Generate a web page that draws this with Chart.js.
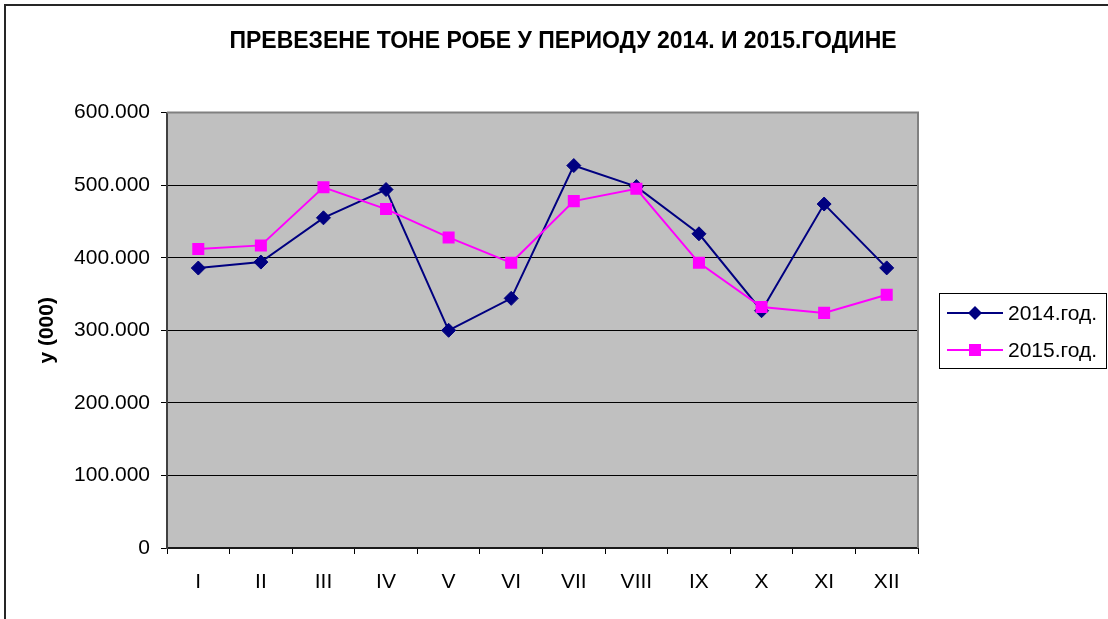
<!DOCTYPE html>
<html>
<head>
<meta charset="utf-8">
<script src="https://cdn.jsdelivr.net/npm/chart.js@4/dist/chart.umd.min.js"></script>
<style>
  html, body { margin: 0; padding: 0; background: #fff; }
  #wrap { width: 1108px; height: 619px; }
</style>
</head>
<body>
<div id="wrap"><canvas id="chart" width="1108" height="619"></canvas></div>
<script>
// Text strings
var chartTitle = "ПРЕВЕЗЕНЕ ТОНЕ РОБЕ У ПЕРИОДУ 2014. И 2015.ГОДИНЕ";
var yAxisTitle = "у (000)";
var months = ["I", "II", "III", "IV", "V", "VI", "VII", "VIII", "IX", "X", "XI", "XII"];

// Values
var values2014 = [385800, 394000, 455000, 494000, 300000, 344000, 527000, 498000, 433000, 327000, 474000, 386000];
var values2015 = [412000, 417000, 497000, 467000, 428000, 393000, 478000, 495000, 393000, 332000, 324000, 349000];
var label2014 = "2014.год.";
var label2015 = "2015.год.";

// Colors
var color2014 = "#000080";
var color2015 = "#FF00FF";
var plotColor = "#C0C0C0";
var fontName = "'Liberation Sans', Arial, sans-serif";

// 100000 -> "100.000"
function formatThousands(v) {
    return String(v).replace(/\B(?=(\d{3})+(?!\d))/g, ".");
}

// White page, outer frame and grey plot area
var backgroundPlugin = {
    id: 'background',
    beforeDraw: function(chart) {
        var ctx = chart.ctx;
        var a = chart.chartArea;
        ctx.save();
        ctx.fillStyle = "#fff";
        ctx.fillRect(0, 0, chart.width, chart.height);
        ctx.strokeStyle = "#262626";
        ctx.lineWidth = 2;
        ctx.strokeRect(5, 5, chart.width + 20, chart.height + 20);
        ctx.fillStyle = plotColor;
        ctx.fillRect(a.left, a.top, a.right - a.left, a.bottom - a.top);
        ctx.restore();
    },
    beforeDatasetsDraw: function(chart) {
        // grey top and right edges of the plot area
        var ctx = chart.ctx;
        var a = chart.chartArea;
        ctx.save();
        ctx.strokeStyle = "#808080";
        ctx.lineWidth = 2;
        ctx.beginPath();
        ctx.moveTo(a.left, a.top);
        ctx.lineTo(a.right, a.top);
        ctx.lineTo(a.right, a.bottom);
        ctx.stroke();
        ctx.restore();
    }
};

function drawMarker(ctx, style, x, y, r, color) {
    ctx.fillStyle = color;
    ctx.beginPath();
    if (style === 'rectRot') {
        ctx.moveTo(x, y - r);
        ctx.lineTo(x + r, y);
        ctx.lineTo(x, y + r);
        ctx.lineTo(x - r, y);
    } else {
        var s = Math.SQRT1_2 * r;
        ctx.rect(x - s, y - s, 2 * s, 2 * s);
    }
    ctx.closePath();
    ctx.fill();
}

// Boxed legend on the right, line + marker like the original
var legendPlugin = {
    id: 'boxLegend',
    afterDraw: function(chart) {
        var ctx = chart.ctx;
        var boxLeft = 939, boxTop = 293, boxW = 167, boxH = 75;
        ctx.save();
        ctx.fillStyle = "#fff";
        ctx.fillRect(boxLeft, boxTop, boxW, boxH);
        ctx.strokeStyle = "#000";
        ctx.lineWidth = 1;
        ctx.strokeRect(boxLeft + 0.5, boxTop + 0.5, boxW, boxH);
        ctx.font = "21px " + fontName;
        ctx.textBaseline = "middle";
        ctx.textAlign = "left";
        chart.data.datasets.forEach(function(ds, i) {
            var y = boxTop + 20 + i * 37;
            ctx.strokeStyle = ds.borderColor;
            ctx.lineWidth = 2;
            ctx.beginPath();
            ctx.moveTo(boxLeft + 8, y);
            ctx.lineTo(boxLeft + 64, y);
            ctx.stroke();
            drawMarker(ctx, ds.pointStyle, boxLeft + 36, y, ds.pointRadius, ds.borderColor);
            ctx.fillStyle = "#000";
            ctx.fillText(ds.label, boxLeft + 69, y + 1);
        });
        ctx.restore();
    }
};

var ctx = document.getElementById('chart');
var chart = new Chart(ctx, {
    type: 'line',
    data: {
        labels: months,
        datasets: [
            {label: label2014, data: values2014, borderColor: color2014, backgroundColor: color2014,
                borderWidth: 2, pointStyle: 'rectRot', pointRadius: 7, pointBorderWidth: 1,
                pointBackgroundColor: color2014, pointBorderColor: color2014, tension: 0, order: 1},
            {label: label2015, data: values2015, borderColor: color2015, backgroundColor: color2015,
                borderWidth: 2, pointStyle: 'rect', pointRadius: 8.5, pointBorderWidth: 0,
                pointBackgroundColor: color2015, pointBorderColor: color2015, tension: 0, order: 0}
        ]
    },
    options: {
        responsive: false,
        animation: false,
        layout: { padding: { left: 18, right: 0, top: 0, bottom: 0 } },
        plugins: {
            legend: { display: false },
            tooltip: { enabled: false },
            title: {
                display: true,
                text: chartTitle,
                color: "#000",
                font: { family: fontName, size: 23, weight: 'bold' },
                padding: { top: 28, bottom: 57 }
            }
        },
        scales: {
            x: {
                offset: true,
                grid: { display: true, drawOnChartArea: false, drawTicks: true, tickLength: 6,
                    offset: true, color: "#000", lineWidth: 1 },
                border: { display: true, color: "#1a1a1a", width: 2 },
                ticks: { color: "#000", font: { family: fontName, size: 21 }, padding: 16,
                    maxRotation: 0, autoSkip: false },
                afterFit: function(scale) { scale.height = 71; }
            },
            y: {
                min: 0,
                max: 600000,
                grid: { color: "#000", lineWidth: 1, drawTicks: true, tickLength: 6 },
                border: { display: true, color: "#404040", width: 2 },
                ticks: { stepSize: 100000, color: "#000", font: { family: fontName, size: 21 }, padding: 11,
                    callback: function(v) { return formatThousands(v); } },
                title: { display: true, text: yAxisTitle, color: "#000",
                    font: { family: fontName, size: 21, weight: 'bold' }, padding: { top: 17, bottom: 0 } },
                afterFit: function(scale) { scale.width = 149; }
            },
            // empty right-hand axis that keeps room for the legend
            yRight: {
                position: 'right',
                display: true,
                grid: { display: false },
                border: { display: false },
                ticks: { display: false },
                afterFit: function(scale) { scale.width = 190; }
            }
        }
    },
    plugins: [backgroundPlugin, legendPlugin]
});
</script>
</body>
</html>
